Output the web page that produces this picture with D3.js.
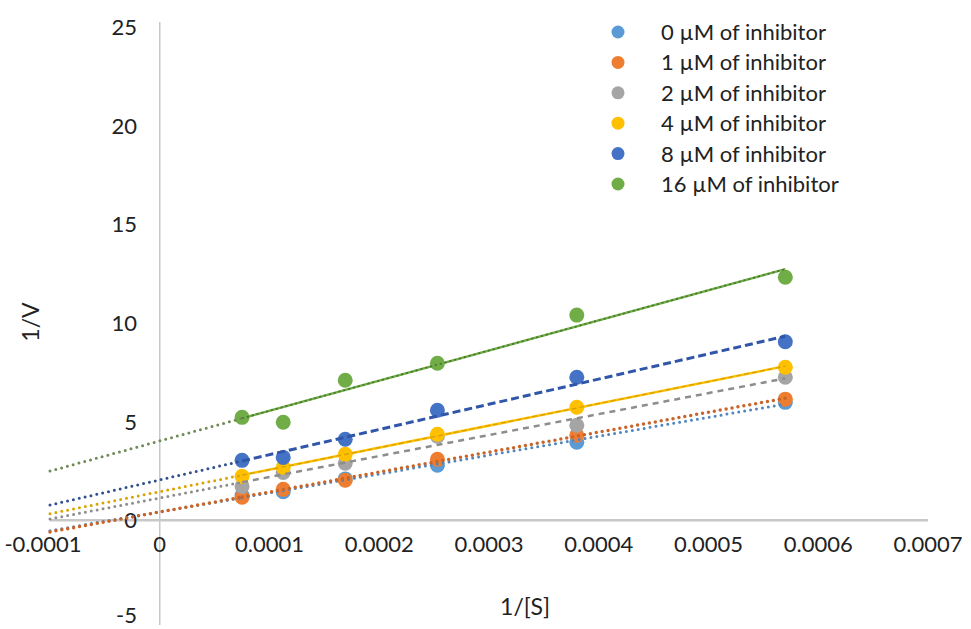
<!DOCTYPE html>
<html>
<head>
<meta charset="utf-8">
<script src="https://cdn.jsdelivr.net/npm/d3@7"></script>
<style>
  html, body { margin: 0; padding: 0; background: #fff; }
  svg { display: block; }
  text { font-family: Lato, "Open Sans", sans-serif; fill: #222; }
</style>
</head>
<body>
<svg id="chart" width="971" height="629"></svg>
<script>
// Reciprocal substrate concentration, 1/[S]
const invS = [0.000075, 0.0001125, 0.000169, 0.000253, 0.00038, 0.00057];

// Reciprocal velocity, 1/V, for each inhibitor concentration
const inhibitorLabels = ["0 µM of inhibitor", "1 µM of inhibitor", "2 µM of inhibitor",
                         "4 µM of inhibitor", "8 µM of inhibitor", "16 µM of inhibitor"];
const v0uM  = [1.25, 1.45, 2.10, 2.79, 3.96, 5.98];
const v1uM  = [1.17, 1.57, 2.03, 3.09, 4.31, 6.14];
const v2uM  = [1.72, 2.43, 2.89, 4.26, 4.82, 7.25];
const v4uM  = [2.23, 2.69, 3.35, 4.36, 5.73, 7.76];
const v8uM  = [3.04, 3.19, 4.11, 5.58, 7.25, 9.05];
const v16uM = [5.22, 4.97, 7.10, 7.96, 10.40, 12.32];

const xTicks = [-0.0001, 0, 0.0001, 0.0002, 0.0003, 0.0004, 0.0005, 0.0006, 0.0007];
const yTicks = [-5, 0, 5, 10, 15, 20, 25];

const seriesValues = [v0uM, v1uM, v2uM, v4uM, v8uM, v16uM];
const colors = ["#5B9BD5", "#ED7D31", "#A5A5A5", "#FFC000", "#4472C4", "#70AD47"];
const dotColors = ["#4f86bd", "#c8652a", "#8d8d8d", "#d8a400", "#2f4f8f", "#6e8a55"];

// Style of the trendline over the measured range
const forwardStyles = [
  [{ color: "#4f86bd", width: 3, dash: "0 6", cap: "round" }],
  [{ color: "#c8652a", width: 3.5, dash: "0 6", cap: "round" }],
  [{ color: "#8d8d8d", width: 2.5, dash: "6 5", cap: "butt" }],
  [{ color: "#FFC000", width: 2.5, dash: null, cap: "butt" },
   { color: "#d49f00", width: 1.2, dash: "5 3", cap: "butt" }],
  [{ color: "#2f56a8", width: 3, dash: "8 4", cap: "butt" }],
  [{ color: "#70AD47", width: 2.5, dash: null, cap: "butt" },
   { color: "#46722a", width: 1.6, dash: "2 3", cap: "butt" }]
];

const svg = d3.select("#chart");

const x = d3.scaleLinear().domain([-0.0001, 0.0007]).range([50, 928]);
const y = d3.scaleLinear().domain([-5, 25]).range([619, 27]);

// Axis lines crossing at the origin
svg.append("line")
  .attr("x1", x(0)).attr("x2", x(0))
  .attr("y1", y(25) - 5).attr("y2", y(-5) + 6)
  .attr("stroke", "#c8c8c8").attr("stroke-width", 1.5);
svg.append("line")
  .attr("x1", x(-0.0001)).attr("x2", x(0.0007))
  .attr("y1", y(0)).attr("y2", y(0))
  .attr("stroke", "#c8c8c8").attr("stroke-width", 2.5);

// Tick labels
const fmtX = d => d === 0 ? "0" : d3.format(".4f")(d).replace("\u2212", "-");
svg.append("g").selectAll("text").data(xTicks).join("text")
  .attr("x", d => d === -0.0001 ? x(d) - 7 : x(d))
  .attr("y", y(0) + 32)
  .attr("text-anchor", "middle")
  .attr("font-size", 22)
  .text(fmtX);

svg.append("g").selectAll("text").data(yTicks).join("text")
  .attr("x", 137)
  .attr("y", d => d === -5 ? y(d) + 4 : y(d) + 8)
  .attr("text-anchor", "end")
  .attr("font-size", 22)
  .text(d => String(d));

// Axis titles
svg.append("text")
  .attr("x", 525).attr("y", 615)
  .attr("text-anchor", "middle")
  .attr("font-size", 23)
  .text("1/[S]");
svg.append("text")
  .attr("transform", `translate(39,322) rotate(-90)`)
  .attr("text-anchor", "middle")
  .attr("font-size", 23)
  .text("1/V");

// Least-squares fit of 1/V against 1/[S]
function fit(xs, ys) {
  const mx = d3.mean(xs), my = d3.mean(ys);
  let sxy = 0, sxx = 0;
  xs.forEach((xi, i) => { sxy += (xi - mx) * (ys[i] - my); sxx += (xi - mx) ** 2; });
  const slope = sxy / sxx;
  return { slope, intercept: my - slope * mx };
}

const markers = svg.append("g");
const trends = svg.append("g");

seriesValues.forEach((vals, i) => {
  markers.selectAll(null).data(vals).join("circle")
    .attr("cx", (d, j) => x(invS[j]))
    .attr("cy", d => y(d))
    .attr("r", 7.5)
    .attr("fill", colors[i]);
});

seriesValues.forEach((vals, i) => {
  const { slope, intercept } = fit(invS, vals);
  const f = t => intercept + slope * t;
  const xStart = x.domain()[0];
  const xFirst = d3.min(invS), xLast = d3.max(invS);

  // backward forecast, dotted
  trends.append("line")
    .attr("x1", x(xStart)).attr("y1", y(f(xStart)))
    .attr("x2", x(xFirst)).attr("y2", y(f(xFirst)))
    .attr("stroke", dotColors[i]).attr("stroke-width", i === 1 ? 3.5 : 3)
    .attr("stroke-dasharray", "0 6").attr("stroke-linecap", "round");

  // fitted range
  forwardStyles[i].forEach(s => {
    trends.append("line")
      .attr("x1", x(xFirst)).attr("y1", y(f(xFirst)))
      .attr("x2", x(xLast)).attr("y2", y(f(xLast)))
      .attr("stroke", s.color).attr("stroke-width", s.width)
      .attr("stroke-dasharray", s.dash)
      .attr("stroke-linecap", s.cap);
  });
});

// Legend
const legend = svg.append("g");
inhibitorLabels.forEach((lab, i) => {
  const ly = 32 + i * 30.4;
  legend.append("circle").attr("cx", 618).attr("cy", ly).attr("r", 6.5).attr("fill", colors[i]);
  legend.append("text").attr("x", 661).attr("y", ly + 8).attr("font-size", 22).text(lab);
});
</script>
</body>
</html>
